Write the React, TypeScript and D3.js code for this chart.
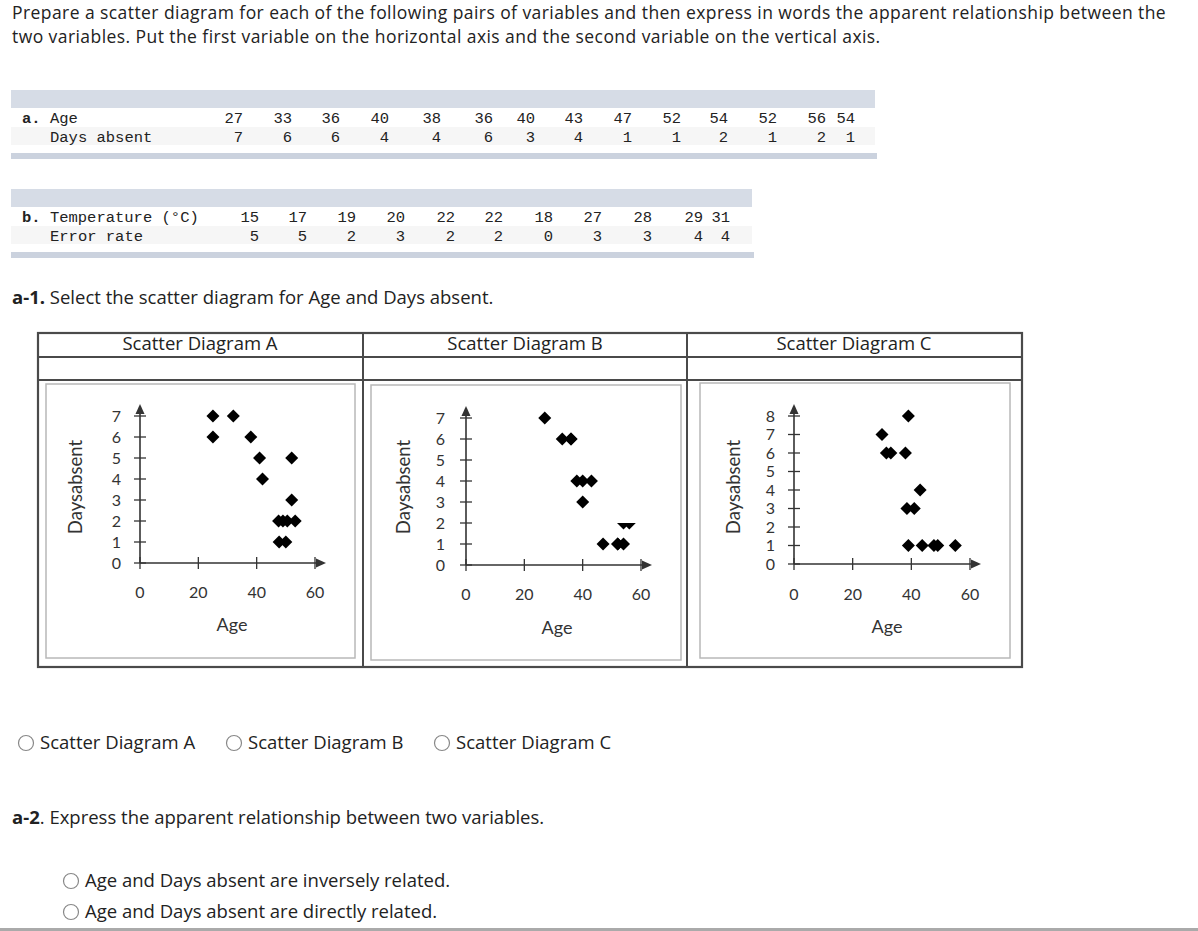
import React from 'react';
import * as d3 from 'd3';

// ---------- data: tables ----------
const ageValues = [27, 33, 36, 40, 38, 36, 40, 43, 47, 52, 54, 52, 56, 54];
const daysAbsentValues = [7, 6, 6, 4, 4, 6, 3, 4, 1, 1, 2, 1, 2, 1];
const temperatureValues = [15, 17, 19, 20, 22, 22, 18, 27, 28, 29, 31];
const errorRateValues = [5, 5, 2, 3, 2, 2, 0, 3, 3, 4, 4];

// ---------- data: scatter diagrams ----------
const diagramAAge = [25, 32, 25, 38, 41, 52, 42, 52, 47.5, 49, 50.5, 53.2, 47.7, 50];
const diagramADays = [7, 7, 6, 6, 5, 5, 4, 3, 2, 2, 2, 2, 1, 1];
const diagramBAge = ageValues;
const diagramBDays = daysAbsentValues;
const diagramCAge = [39, 30, 31.5, 33, 38, 43, 38.5, 41, 39, 43.7, 47.7, 49, 55];
const diagramCDays = [8, 7, 6, 6, 6, 4, 3, 3, 1, 1, 1, 1, 1];

const xTickValues = [0, 20, 40, 60];
const yTicksSeven = [0, 1, 2, 3, 4, 5, 6, 7];
const yTicksEight = [0, 1, 2, 3, 4, 5, 6, 7, 8];

const questionLines = [
  'Prepare a scatter diagram for each of the following pairs of variables and then express in words the apparent relationship between the',
  'two variables. Put the first variable on the horizontal axis and the second variable on the vertical axis.',
];
const diagramTitles = ['Scatter Diagram A', 'Scatter Diagram B', 'Scatter Diagram C'];
const radioLabels = ['Scatter Diagram A', 'Scatter Diagram B', 'Scatter Diagram C'];
const relationLabels = [
  'Age and Days absent are inversely related.',
  'Age and Days absent are directly related.',
];

// ---------- layout ----------
const W = 1198;
const H = 931;
const SANS = '"Open Sans", Lato, sans-serif';
const PLOTF = 'Lato, "Open Sans", sans-serif';
const MONO = '"Liberation Mono", "DejaVu Sans Mono", monospace';
const TXT = '#222';
const FS = 18.5;

const colA = [243, 292, 340, 389, 441, 493, 535, 583, 632, 681, 728, 777, 826, 855];
const colB = [259, 307, 356, 405, 455, 503, 553, 602, 652, 703, 730];

const plots = [
  { ages: diagramAAge, days: diagramADays, yTicks: yTicksSeven, x0: 140, x60: 315, y0: 563, yTop: 416, arrowX: 326, arrowY: 404, tickRight: 121, xLabY: 598, ageX: 232, ageY: 631, ylabX: 76, half: null as number | null },
  { ages: diagramBAge, days: diagramBDays, yTicks: yTicksSeven, x0: 466, x60: 641, y0: 565, yTop: 418, arrowX: 652, arrowY: 406, tickRight: 445, xLabY: 600, ageX: 557, ageY: 634, ylabX: 404, half: 2 },
  { ages: diagramCAge, days: diagramCDays, yTicks: yTicksEight, x0: 794, x60: 970, y0: 564, yTop: 416, arrowX: 981, arrowY: 404, tickRight: 775, xLabY: 600, ageX: 887, ageY: 633, ylabX: 734, half: null },
];

const diamond = 'M0,-6.5L6.5,0L0,6.5L-6.5,0Z';
const halfDiamond = 'M-6.5,0L6.5,0L0,6.5Z';

function Plot({ p }: { p: typeof plots[number] }) {
  const yMax = d3.max(p.yTicks) as number;
  const x = d3.scaleLinear().domain([0, 60]).range([p.x0, p.x60]);
  const y = d3.scaleLinear().domain([0, yMax]).range([p.y0, p.yTop]);
  const ax = '#333';
  return (
    <g fontFamily={PLOTF}>
      <line x1={p.x0} y1={p.y0} x2={p.x0} y2={p.arrowY + 6} stroke={ax} strokeWidth={1.6} />
      <path d={`M${p.x0},${p.arrowY}L${p.x0 - 4.5},${p.arrowY + 10}L${p.x0 + 4.5},${p.arrowY + 10}Z`} fill={ax} />
      <line x1={p.x0} y1={p.y0} x2={p.arrowX - 6} y2={p.y0} stroke={ax} strokeWidth={1.6} />
      <path d={`M${p.arrowX},${p.y0}L${p.arrowX - 10},${p.y0 - 4.5}L${p.arrowX - 10},${p.y0 + 4.5}Z`} fill={ax} />
      {p.yTicks.map((t) => (
        <g key={'y' + t}>
          <line x1={p.x0 - 6} x2={p.x0 + 6} y1={y(t)} y2={y(t)} stroke={ax} strokeWidth={1.3} />
          <text x={p.tickRight} y={y(t) + 5.5} textAnchor="end" fontSize={16} fill="#333">{t}</text>
        </g>
      ))}
      {xTickValues.map((t) => (
        <g key={'x' + t}>
          <line x1={x(t)} x2={x(t)} y1={p.y0 - 6} y2={p.y0 + 6} stroke={ax} strokeWidth={1.3} />
          <text x={x(t)} y={p.xLabY} textAnchor="middle" fontSize={16} fill="#333">{t}</text>
        </g>
      ))}
      <text x={p.ageX} y={p.ageY} textAnchor="middle" fontSize={18} fill="#333">Age</text>
      <text transform={`translate(${p.ylabX},487) rotate(-90)`} textAnchor="middle" dy={6} fontSize={18.5} fill="#333">Daysabsent</text>
      {p.ages.map((a, i) => (
        <path key={i} transform={`translate(${x(a)},${y(p.days[i])})`} d={p.half !== null && p.days[i] === p.half ? halfDiamond : diamond} fill="#000" />
      ))}
    </g>
  );
}

function Radio({ cx, cy }: { cx: number; cy: number }) {
  return <circle cx={cx} cy={cy} r={7.5} fill="#fff" stroke="#888" strokeWidth={1.2} />;
}

export default function App() {
  return (
    <svg width={W} height={H} style={{ position: 'absolute', left: 0, top: 0, background: '#fff' }} fontFamily={SANS}>
      <rect width={W} height={H} fill="#fff" />
      {questionLines.map((l, i) => (
        <text key={i} x={12} y={[19.3, 43.3][i]} fontSize={17.5} letterSpacing={0.43} fill={TXT}>{l}</text>
      ))}

      {/* table a */}
      <rect x={11} y={90} width={864} height={18} fill="#d6dce6" />
      <rect x={11} y={127} width={864} height={18} fill="#f6f6f6" />
      <rect x={11} y={153} width={866} height={6} fill="#cbd2de" />
      <text x={22} y={123} fontFamily={MONO} fontSize={15.5} fill={TXT}><tspan fontWeight="bold">a.</tspan> Age</text>
      <text x={50} y={142} fontFamily={MONO} fontSize={15.5} fill={TXT}>Days absent</text>
      {ageValues.map((v, i) => (
        <text key={'a' + i} x={colA[i]} y={123} textAnchor="end" fontFamily={MONO} fontSize={15.5} fill={TXT}>{v}</text>
      ))}
      {daysAbsentValues.map((v, i) => (
        <text key={'d' + i} x={colA[i]} y={142} textAnchor="end" fontFamily={MONO} fontSize={15.5} fill={TXT}>{v}</text>
      ))}

      {/* table b */}
      <rect x={11} y={189} width={741} height={18} fill="#d6dce6" />
      <rect x={11} y={226} width={741} height={18} fill="#f6f6f6" />
      <rect x={11} y={252} width={743} height={6} fill="#cbd2de" />
      <text x={22} y={222} fontFamily={MONO} fontSize={15.5} fill={TXT}><tspan fontWeight="bold">b.</tspan> Temperature (°C)</text>
      <text x={50} y={241} fontFamily={MONO} fontSize={15.5} fill={TXT}>Error rate</text>
      {temperatureValues.map((v, i) => (
        <text key={'t' + i} x={colB[i]} y={222} textAnchor="end" fontFamily={MONO} fontSize={15.5} fill={TXT}>{v}</text>
      ))}
      {errorRateValues.map((v, i) => (
        <text key={'e' + i} x={colB[i]} y={241} textAnchor="end" fontFamily={MONO} fontSize={15.5} fill={TXT}>{v}</text>
      ))}

      <text x={12} y={304} fontSize={FS} fill={TXT}><tspan fontWeight="bold">a-1.</tspan> Select the scatter diagram for Age and Days absent.</text>

      {/* scatter table frame */}
      <rect x={46} y={384} width={309} height={274} fill="none" stroke="#b8b8b8" strokeWidth={1.5} />
      <rect x={371} y={385} width={310} height={275} fill="none" stroke="#b8b8b8" strokeWidth={1.5} />
      <rect x={700} y={383} width={310} height={275} fill="none" stroke="#b8b8b8" strokeWidth={1.5} />
      <rect x={38} y={333} width={984} height={334} fill="none" stroke="#4a4a4a" strokeWidth={2.2} />
      <line x1={38} x2={1022} y1={357} y2={357} stroke="#4a4a4a" strokeWidth={2} />
      <line x1={38} x2={1022} y1={380} y2={380} stroke="#4a4a4a" strokeWidth={2} />
      <line x1={363} x2={363} y1={333} y2={667} stroke="#4a4a4a" strokeWidth={2} />
      <line x1={687} x2={687} y1={333} y2={667} stroke="#4a4a4a" strokeWidth={2} />
      {diagramTitles.map((t, i) => (
        <text key={t} x={[200, 525, 854][i]} y={350} textAnchor="middle" fontSize={FS} fill={TXT}>{t}</text>
      ))}
      {plots.map((p, i) => <Plot key={i} p={p} />)}

      {radioLabels.map((t, i) => (
        <g key={t}>
          <Radio cx={[26, 234, 442][i]} cy={743} />
          <text x={[40, 248, 456][i]} y={749} fontSize={FS} fill={TXT}>{t}</text>
        </g>
      ))}

      <text x={12} y={824} fontSize={FS} fill={TXT}><tspan fontWeight="bold">a-2</tspan>. Express the apparent relationship between two variables.</text>
      {relationLabels.map((t, i) => (
        <g key={t}>
          <Radio cx={71} cy={[881, 912][i]} />
          <text x={85} y={[887, 918][i]} fontSize={FS} fill={TXT}>{t}</text>
        </g>
      ))}
      <rect x={0} y={928} width={W} height={3} fill="#aaa" />
    </svg>
  );
}
